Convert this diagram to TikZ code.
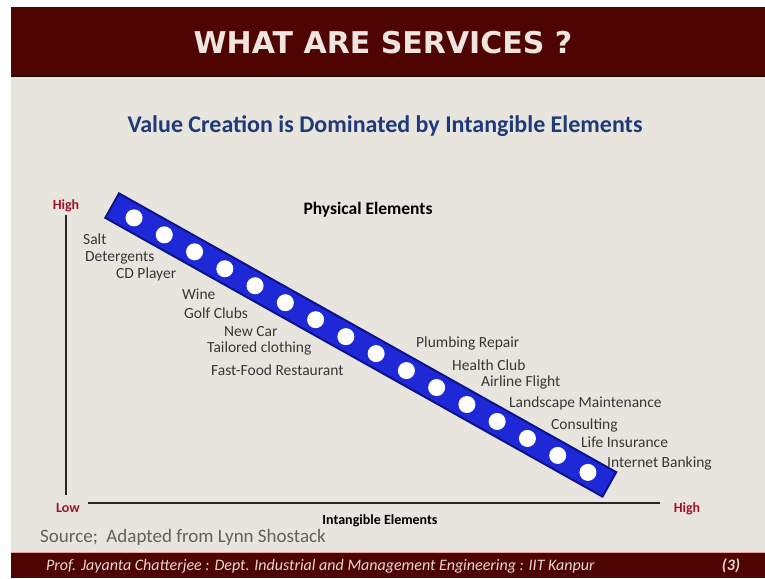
\documentclass[tikz,border=0pt]{standalone}
\usepackage{fontspec}
\setmainfont{Carlito}
\newfontfamily\headfont{DejaVu Sans}
\usepackage{tikz}
\usetikzlibrary{positioning}

\definecolor{slidered}{RGB}{78,5,2}
\definecolor{slidebg}{RGB}{232,229,223}
\definecolor{subblue}{RGB}{31,58,120}
\definecolor{axisred}{RGB}{163,19,42}
\definecolor{barblue}{RGB}{30,40,215}
\definecolor{baredge}{RGB}{12,18,140}
\definecolor{itemgray}{RGB}{55,55,55}
\definecolor{titlewhite}{RGB}{240,228,222}
\definecolor{footwhite}{RGB}{232,214,206}

\newcommand{\sz}[1]{\fontsize{#1}{#1}\selectfont}

\begin{document}
\begin{tikzpicture}[x=1pt, y=1pt,
	item/.style = { anchor=west, inner sep=0pt, text=itemgray, font=\sz{15.5} },
	axislabel/.style = { inner sep=0pt, text=axisred, font=\bfseries\sz{14} },
	hole/.style = { circle, fill=white, inner sep=0pt, minimum size=17pt } ]

  % slide frame
  \useasboundingbox (0,0) rectangle (765,578);
  \fill[white] (0,0) rectangle (765,578);
  \fill[slidebg] (11,26) rectangle (765,502);
  \fill[slidered] (11,502) rectangle (765,571);
  \draw[line width=1.5pt, black!60!slidered] (11,501.5) -- (765,501.5);
  \fill[slidered] (11,0) rectangle (765,25);
  \draw[line width=1pt, red!30!slidebg] (11,25.5) -- (765,25.5);

  \node [name=title, inner sep=0pt, text=titlewhite,
	font=\headfont\bfseries\sz{30}] at (383,535) { WHAT ARE SERVICES ? };
  \node [name=subtitle, inner sep=0pt, text=subblue,
	font=\bfseries\sz{24}] at (385,452)
	{ Value Creation is Dominated by Intangible Elements };

  % axes
  \coordinate (ytop) at (66,363);
  \coordinate (ybot) at (66,83);
  \coordinate (xleft) at (88,75);
  \coordinate (xright) at (660,75);
  \draw[line width=1.5pt, black!85] (ytop) -- (ybot);
  \draw[line width=1.5pt, black!85] (xleft) -- (xright);
  \node [name=yhigh, axislabel] at (66,372) { High };
  \node [name=xlow, axislabel] at (68,70) { Low };
  \node [name=xhigh, axislabel] at (687,69) { High };
  \node [name=physical, inner sep=0pt, font=\bfseries\sz{17.5}] at (368,368)
	{ Physical Elements };
  \node [name=intangible, inner sep=0pt, font=\bfseries\sz{14}] at (380,57)
	{ Intangible Elements };

  % the bar
  \node [name=bar, rectangle, rotate=-29.28, fill=barblue, draw=baredge,
	line width=2pt, minimum width=570pt, minimum height=28pt, inner sep=0pt]
	at (360.75,233) {};
  \foreach \i in {0,...,15}
	\path (bar.west) -- (bar.east) node [name=c\i, hole, pos=0.0456+0.06066*\i] {};

  % goods and services
  \node [name=salt, item] at (83,339) { Salt };
  \node [name=detergents, item] at (85,320) { Detergents };
  \node [name=cdplayer, item] at (116,304) { CD Player };
  \node [name=wine, item] at (182,284) { Wine };
  \node [name=golfclubs, item] at (184,265) { Golf Clubs };
  \node [name=newcar, item] at (224,246) { New Car };
  \node [name=tailored, item] at (207,230) { Tailored clothing };
  \node [name=fastfood, item] at (211,208) { Fast-Food Restaurant };
  \node [name=plumbing, item] at (416,235) { Plumbing Repair };
  \node [name=healthclub, item] at (452,213) { Health Club };
  \node [name=airline, item] at (481,196) { Airline Flight };
  \node [name=landscape, item] at (509,175) { Landscape Maintenance };
  \node [name=consulting, item] at (551,153) { Consulting };
  \node [name=lifeins, item] at (581,136) { Life Insurance };
  \node [name=banking, item] at (607,115) { Internet Banking };

  \node [name=source, anchor=west, inner sep=0pt, text=black!62,
	font=\sz{19}] at (40,41) { Source;\ \ Adapted from Lynn Shostack };

  % footer
  \node [name=footer, anchor=west, inner sep=0pt, text=footwhite,
	font=\itshape\sz{16}] at (46,12)
	{ Prof. Jayanta Chatterjee : Dept. Industrial and Management Engineering : IIT Kanpur };
  \node [name=pageno, inner sep=0pt, text=footwhite,
	font=\itshape\bfseries\sz{16}] at (731,12) { (3) };
\end{tikzpicture}
\end{document}
